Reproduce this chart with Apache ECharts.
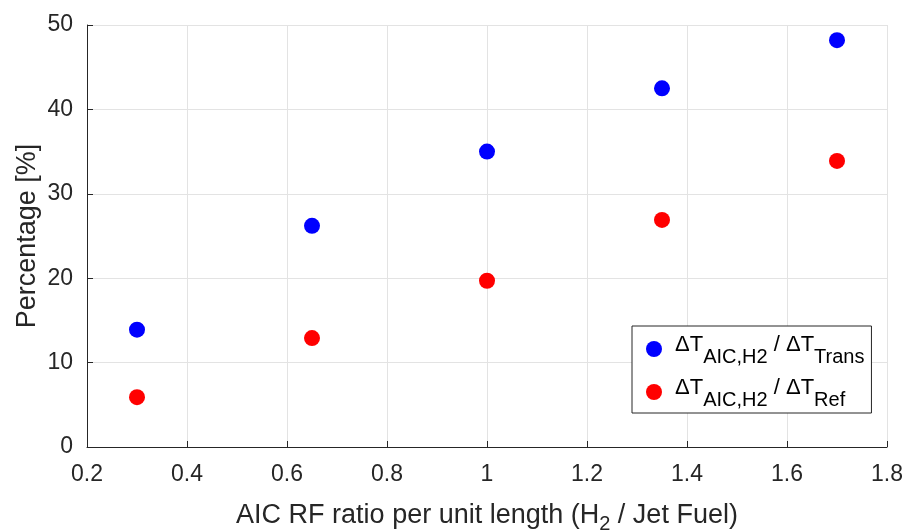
<!DOCTYPE html>
<html>
<head>
<meta charset="utf-8">
<script src="https://cdn.jsdelivr.net/npm/echarts@6/dist/echarts.min.js"></script>
<style>
  html, body { margin: 0; padding: 0; background: #fff; }
  #chart { width: 913px; height: 531px; }
</style>
</head>
<body>
<div id="chart"></div>
<script>
// AIC RF ratio per unit length (H2 / Jet Fuel)
const rfRatio = [0.3, 0.65, 1.0, 1.35, 1.7];
// ΔT_AIC,H2 / ΔT_Trans  [%]
const shareOfTrans = [13.9, 26.2, 35.0, 42.5, 48.2];
// ΔT_AIC,H2 / ΔT_Ref  [%]
const shareOfRef = [5.9, 12.9, 19.7, 26.9, 33.9];

const xTicks = { min: 0.2, max: 1.8, step: 0.2 };
const yTicks = { min: 0, max: 50, step: 10 };

const seriesNames = ['trans', 'ref'];
const seriesLabels = {
  trans: '{g| }{m|ΔT}{s|AIC,H2}{m| / ΔT}{s|Trans}',
  ref: '{g| }{m|ΔT}{s|AIC,H2}{m| / ΔT}{s|Ref}'
};

const FONT = 'Liberation Sans, Arial, Helvetica, sans-serif';
const AXIS_COLOR = '#262626';
const GRID_COLOR = '#e3e3e3';

const pairs = (xs, ys) => xs.map((x, i) => [x, ys[i]]);

const chart = echarts.init(document.getElementById('chart'), null, { renderer: 'canvas' });

chart.setOption({
  backgroundColor: '#ffffff',
  animation: false,
  grid: {
    left: 87, right: 26, top: 25, bottom: 84,
    containLabel: false,
    outerBoundsMode: 'none'
  },
  xAxis: {
    type: 'value',
    min: xTicks.min, max: xTicks.max, interval: xTicks.step,
    name: '{a|AIC RF ratio per unit length (H}{b|2}{a| / Jet Fuel)}',
    nameLocation: 'middle',
    nameGap: 51,
    nameTextStyle: {
      rich: {
        a: { fontFamily: FONT, fontSize: 27, color: AXIS_COLOR },
        b: { fontFamily: FONT, fontSize: 20, color: AXIS_COLOR, padding: [16, 0, 0, 0] }
      }
    },
    axisLine: { show: true, onZero: false, lineStyle: { color: AXIS_COLOR, width: 1 } },
    axisTick: { show: true, inside: true, length: 6, lineStyle: { color: AXIS_COLOR } },
    axisLabel: {
      fontFamily: FONT, fontSize: 23, color: AXIS_COLOR, margin: 16,
      formatter: v => String(Math.round(v * 10) / 10)
    },
    splitLine: { show: true, lineStyle: { color: GRID_COLOR, width: 1 } }
  },
  yAxis: {
    type: 'value',
    min: yTicks.min, max: yTicks.max, interval: yTicks.step,
    name: 'Percentage [%]',
    nameLocation: 'middle',
    nameGap: 46,
    nameMoveOverlap: false,
    nameTextStyle: { fontFamily: FONT, fontSize: 27, color: AXIS_COLOR },
    axisLine: { show: true, onZero: false, lineStyle: { color: AXIS_COLOR, width: 1 } },
    axisTick: { show: true, inside: true, length: 6, lineStyle: { color: AXIS_COLOR } },
    axisLabel: { fontFamily: FONT, fontSize: 23, color: AXIS_COLOR, margin: 14 },
    splitLine: { show: true, lineStyle: { color: GRID_COLOR, width: 1 } }
  },
  legend: {
    orient: 'vertical',
    left: 632, top: 326,
    padding: [8, 7, 3, 14],
    itemGap: 10,
    itemWidth: 16, itemHeight: 16,
    icon: 'circle',
    backgroundColor: '#ffffff',
    borderColor: '#262626',
    borderWidth: 1,
    borderRadius: 0,
    data: seriesNames,
    formatter: name => seriesLabels[name],
    textStyle: {
      rich: {
        g: { fontFamily: FONT, fontSize: 10, width: 8 },
        m: { fontFamily: FONT, fontSize: 22, color: '#000', padding: [0, 0, 8, 0] },
        s: { fontFamily: FONT, fontSize: 20, color: '#000', padding: [16, 0, 0, 0] }
      }
    }
  },
  series: [
    {
      name: 'trans', type: 'scatter', symbol: 'circle', symbolSize: 16,
      itemStyle: { color: '#0000ff', opacity: 1 },
      data: pairs(rfRatio, shareOfTrans)
    },
    {
      name: 'ref', type: 'scatter', symbol: 'circle', symbolSize: 16,
      itemStyle: { color: '#ff0000', opacity: 1 },
      data: pairs(rfRatio, shareOfRef)
    }
  ]
});
</script>
</body>
</html>
